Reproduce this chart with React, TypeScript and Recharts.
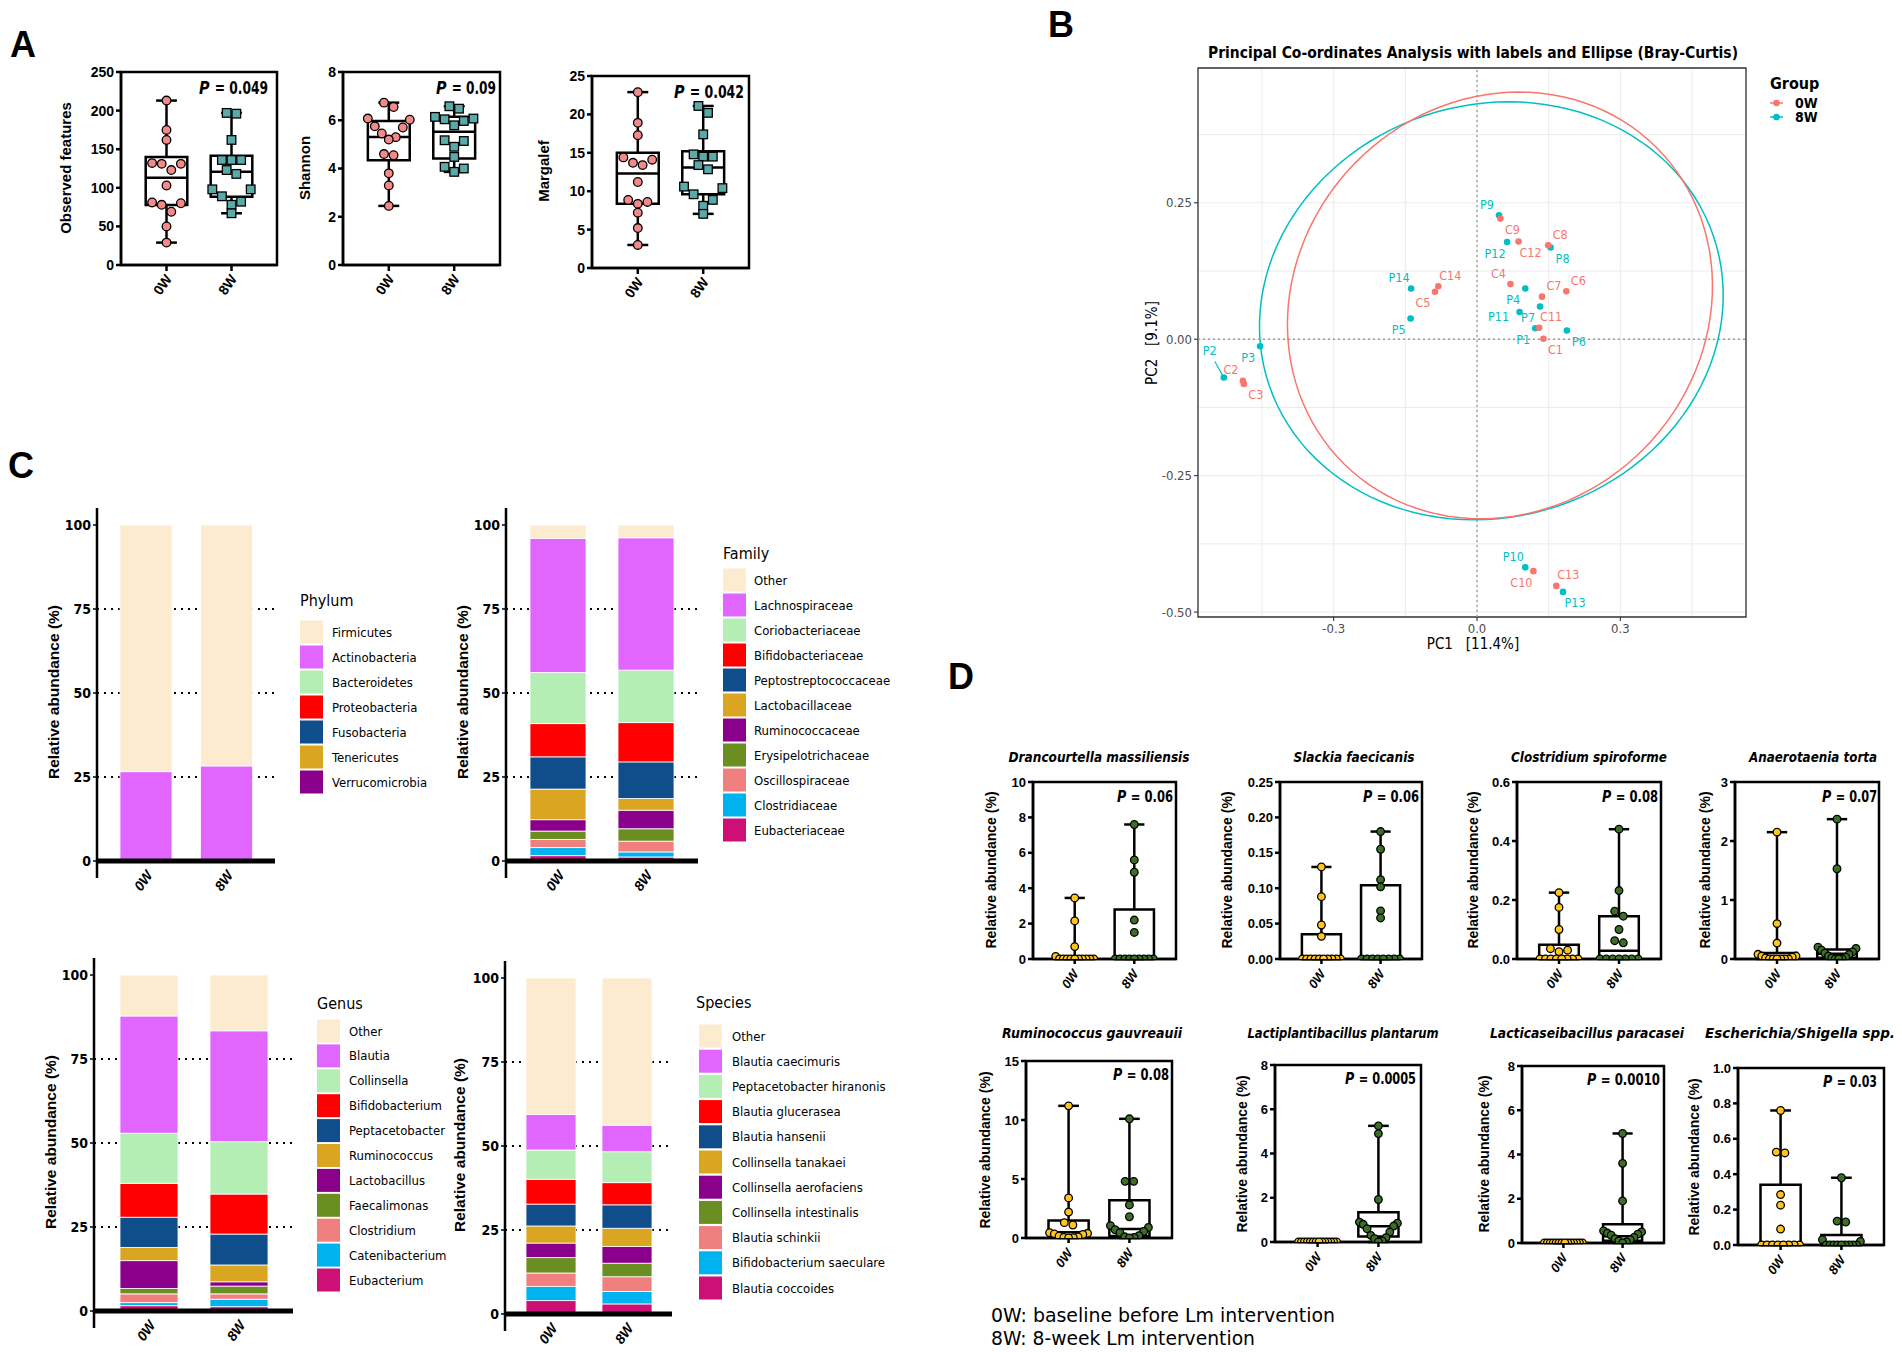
import React from 'react';
import {
  ComposedChart,
  BarChart,
  Bar,
  Scatter,
  XAxis,
  YAxis,
  CartesianGrid,
  ReferenceLine,
  ReferenceArea,
} from 'recharts';

const NARROW = "'Liberation Sans Narrow','Arial Narrow','DejaVu Sans Condensed','Liberation Sans',Arial,sans-serif";
const SANS = "'Liberation Sans',Arial,Helvetica,sans-serif";

const groups = ['0W', '8W'];

// ---------------- Panel A: alpha diversity ----------------
const observed0W = [213, 175, 162, 131, 132, 131, 123, 103, 81, 80, 78, 69, 50, 29];
const observed8W = [197, 196, 162, 136, 136, 136, 123, 118, 98, 98, 89, 82, 78, 67];
const observedBox0W = [29, 77.6, 113, 140, 213]; // min, q1, median, q3, max
const observedBox8W = [67, 88.4, 120.7, 141.4, 197];

const shannon0W = [6.73, 6.55, 6.07, 6.02, 5.75, 5.7, 5.45, 5.3, 5.2, 4.6, 4.55, 3.8, 3.3, 2.45];
const shannon8W = [6.58, 6.48, 6.14, 6.07, 6.04, 5.97, 5.79, 5.17, 5.14, 4.9, 4.48, 4.07, 4.0, 3.86];
const shannonBox0W = [2.45, 4.34, 5.31, 5.97, 6.73];
const shannonBox8W = [3.86, 4.41, 5.52, 6.14, 6.58];

const margalef0W = [22.9, 18.9, 17.3, 14.4, 14.1, 13.7, 13.4, 11.2, 8.87, 8.6, 8.35, 7.2, 5.2, 3.0];
const margalef8W = [21.1, 20.2, 17.4, 14.8, 14.5, 14.5, 13.4, 12.85, 10.6, 10.4, 9.6, 8.87, 8.1, 7.05];
const margalefBox0W = [3.0, 8.35, 12.3, 15.0, 22.9];
const margalefBox8W = [7.05, 9.6, 13.1, 15.2, 21.1];

// ---------------- Panel B: PCoA ----------------
const pcoa0W = [
  { id: 'C1', x: 0.139, y: 0.001 },
  { id: 'C2', x: -0.49, y: -0.076 },
  { id: 'C3', x: -0.488, y: -0.082 },
  { id: 'C4', x: 0.07, y: 0.101 },
  { id: 'C5', x: -0.088, y: 0.087 },
  { id: 'C6', x: 0.187, y: 0.088 },
  { id: 'C7', x: 0.136, y: 0.078 },
  { id: 'C8', x: 0.149, y: 0.172 },
  { id: 'C9', x: 0.049, y: 0.221 },
  { id: 'C10', x: 0.118, y: -0.425 },
  { id: 'C11', x: 0.13, y: 0.021 },
  { id: 'C12', x: 0.087, y: 0.179 },
  { id: 'C13', x: 0.166, y: -0.452 },
  { id: 'C14', x: -0.081, y: 0.097 },
];
const pcoa8W = [
  { id: 'P1', x: 0.122, y: 0.02 },
  { id: 'P2', x: -0.53, y: -0.07 },
  { id: 'P3', x: -0.454, y: -0.013 },
  { id: 'P4', x: 0.101, y: 0.093 },
  { id: 'P5', x: -0.139, y: 0.038 },
  { id: 'P6', x: 0.188, y: 0.016 },
  { id: 'P7', x: 0.132, y: 0.06 },
  { id: 'P8', x: 0.154, y: 0.168 },
  { id: 'P9', x: 0.046, y: 0.227 },
  { id: 'P10', x: 0.101, y: -0.418 },
  { id: 'P11', x: 0.089, y: 0.05 },
  { id: 'P12', x: 0.063, y: 0.178 },
  { id: 'P13', x: 0.18, y: -0.463 },
  { id: 'P14', x: -0.138, y: 0.093 },
];
// label side of each sample label (text repel direction)
const labelSide: Record<string, string> = {
  C1: 'dr', C2: 'ul', C3: 'dr', C4: 'ul', C5: 'dl', C6: 'ur', C7: 'ur', C8: 'ur', C9: 'dr', C10: 'dl',
  C11: 'ur', C12: 'dr', C13: 'ur', C14: 'ur',
  P1: 'dl', P2: 'ul2', P3: 'dl', P4: 'dl', P5: 'dl', P6: 'dr', P7: 'dl', P8: 'dr', P9: 'ul', P10: 'ul',
  P11: 'l', P12: 'dl', P13: 'dr', P14: 'ul',
};
// 95% ellipses: centre, radii, shear
const ellipse0W = { cx: 0.048, cy: 0.062, rx: 0.443, ry: 0.391, h: 0.04 };
const ellipse8W = { cx: 0.03, cy: 0.052, rx: 0.484, ry: 0.383, h: 0.036 };
const pcoaXTicks = [-0.45, -0.3, -0.15, 0, 0.15, 0.3, 0.45];
const pcoaXMajor = [-0.3, 0, 0.3];
const pcoaYTicks = [-0.5, -0.375, -0.25, -0.125, 0, 0.125, 0.25, 0.375];
const pcoaYMajor = [-0.5, -0.25, 0, 0.25];

// ---------------- Panel C: composition ----------------
const phylumTaxa = ['Firmicutes', 'Actinobacteria', 'Bacteroidetes', 'Proteobacteria', 'Fusobacteria', 'Tenericutes', 'Verrucomicrobia'];
const phylum0W = [73.4, 26.3, 0.15, 0.08, 0.04, 0.02, 0.01];
const phylum8W = [71.7, 27.9, 0.2, 0.1, 0.05, 0.03, 0.02];

const familyTaxa = ['Other', 'Lachnospiraceae', 'Coriobacteriaceae', 'Bifidobacteriaceae', 'Peptostreptococcaceae', 'Lactobacillaceae', 'Ruminococcaceae', 'Erysipelotrichaceae', 'Oscillospiraceae', 'Clostridiaceae', 'Eubacteriaceae'];
const family0W = [4.0, 39.9, 15.2, 9.9, 9.6, 9.1, 3.4, 2.5, 2.4, 2.4, 1.6];
const family8W = [3.8, 39.4, 15.6, 11.7, 10.9, 3.5, 5.5, 3.7, 3.2, 1.5, 1.2];

const genusTaxa = ['Other', 'Blautia', 'Collinsella', 'Bifidobacterium', 'Peptacetobacter', 'Ruminococcus', 'Lactobacillus', 'Faecalimonas', 'Clostridium', 'Catenibacterium', 'Eubacterium'];
const genus0W = [12.2, 34.9, 14.9, 10.1, 9.0, 3.9, 8.3, 1.6, 2.6, 0.9, 1.6];
const genus8W = [16.6, 33.0, 15.6, 11.9, 9.2, 5.0, 1.3, 2.3, 1.6, 2.2, 1.3];

const speciesTaxa = ['Other', 'Blautia caecimuris', 'Peptacetobacter hiranonis', 'Blautia glucerasea', 'Blautia hansenii', 'Collinsella tanakaei', 'Collinsella aerofaciens', 'Collinsella intestinalis', 'Blautia schinkii', 'Bifidobacterium saeculare', 'Blautia coccoides'];
const species0W = [40.6, 10.6, 8.7, 7.4, 6.5, 5.1, 4.3, 4.6, 4.0, 4.2, 4.0];
const species8W = [43.8, 7.9, 9.2, 6.6, 7.0, 5.4, 5.0, 4.0, 4.4, 3.7, 3.0];

const palette = ['#FDEBD0', '#E066FF', '#B4EEB4', '#FF0000', '#104E8B', '#DAA520', '#8B008B', '#6B8E23', '#F08080', '#00B2EE', '#CD1076'];
const compTicks = [0, 25, 50, 75, 100];
const compGuideTicks = [25, 50, 75];

// ---------------- Panel D: species boxplots ----------------
const dTitles = ['Drancourtella massiliensis', 'Slackia faecicanis', 'Clostridium spiroforme', 'Anaerotaenia torta', 'Ruminococcus gauvreauii', 'Lactiplantibacillus plantarum', 'Lacticaseibacillus paracasei', 'Escherichia/Shigella spp.'];
const dPvalues = ['0.06', '0.06', '0.08', '0.07', '0.08', '0.0005', '0.0010', '0.03'];

const dranc0W = [3.45, 2.15, 0.7, 0.15, 0, 0, 0, 0, 0, 0, 0, 0, 0, 0];
const dranc8W = [7.6, 5.6, 4.9, 2.2, 1.5, 0, 0, 0, 0, 0, 0, 0, 0, 0];
const drancBox = [[0, 0, 0, 0.12, 3.45], [0, 0, 0, 2.8, 7.6]];

const slack0W = [0.13, 0.088, 0.048, 0.032, 0, 0, 0, 0, 0, 0, 0, 0, 0, 0];
const slack8W = [0.18, 0.155, 0.112, 0.102, 0.068, 0.058, 0, 0, 0, 0, 0, 0, 0, 0];
const slackBox = [[0, 0, 0, 0.035, 0.13], [0, 0, 0, 0.104, 0.18]];

const clost0W = [0.225, 0.175, 0.1, 0.035, 0.03, 0.025, 0, 0, 0, 0, 0, 0, 0, 0];
const clost8W = [0.44, 0.232, 0.162, 0.145, 0.1, 0.062, 0.055, 0, 0, 0, 0, 0, 0, 0];
const clostBox = [[0, 0, 0, 0.048, 0.225], [0, 0, 0.028, 0.145, 0.44]];

const anaer0W = [2.15, 0.6, 0.27, 0.08, 0.05, 0.05, 0.03, 0.02, 0, 0, 0, 0, 0, 0];
const anaer8W = [2.37, 1.53, 0.2, 0.18, 0.15, 0.12, 0.1, 0.08, 0.05, 0.03, 0.02, 0, 0, 0];
const anaerBox = [[0, 0, 0.01, 0.1, 2.15], [0, 0.02, 0.09, 0.16, 2.37]];

const rumin0W = [11.2, 3.4, 2.2, 1.3, 1.1, 0.45, 0.4, 0.35, 0.3, 0.15, 0.1, 0.05, 0.02, 0];
const rumin8W = [10.1, 4.8, 4.8, 2.8, 1.8, 1.05, 0.9, 0.7, 0.55, 0.45, 0.2, 0.1, 0.05, 0];
const ruminBox = [[0, 0.1, 0.48, 1.49, 11.2], [0, 0.18, 0.76, 3.2, 10.1]];

const lplan0W = [0, 0, 0, 0, 0, 0, 0, 0, 0, 0, 0, 0, 0, 0];
const lplan8W = [5.25, 4.9, 1.92, 0.9, 0.85, 0.8, 0.72, 0.6, 0.45, 0.3, 0.2, 0.15, 0.05, 0];
const lplanBox = [[0, 0, 0, 0, 0], [0, 0.25, 0.71, 1.34, 5.25]];

const lpara0W = [0, 0, 0, 0, 0, 0, 0, 0, 0, 0, 0, 0, 0, 0];
const lpara8W = [4.95, 3.6, 1.9, 0.55, 0.5, 0.45, 0.4, 0.35, 0.25, 0.2, 0.15, 0.1, 0.05, 0];
const lparaBox = [[0, 0, 0, 0, 0], [0, 0.1, 0.3, 0.85, 4.95]];

const esch0W = [0.76, 0.525, 0.52, 0.285, 0.225, 0.09, 0, 0, 0, 0, 0, 0, 0, 0];
const esch8W = [0.38, 0.135, 0.13, 0.03, 0.02, 0, 0, 0, 0, 0, 0, 0, 0, 0];
const eschBox = [[0, 0, 0, 0.34, 0.76], [0, 0, 0, 0.057, 0.38]];

// ---------------- helpers ----------------
function zigzag(k: number) {
  const res: number[] = [];
  let lo = 0;
  let hi = k - 1;
  for (let j = 0; j < k; j++) res.push(j % 2 === 0 ? lo++ : hi--);
  return res;
}

// simple beeswarm: points with close values are spread side by side
function swarm(values: number[], center: number, pxY: number, pxX: number, diam: number, maxHalf: number) {
  const order = values.map((_, i) => i).sort((a, b) => values[b] - values[a]);
  const clusters: number[][] = [];
  let cur: number[] = [];
  let prev = NaN;
  order.forEach((i) => {
    const py = values[i] * pxY;
    if (cur.length && Math.abs(prev - py) < diam * 0.75) cur.push(i);
    else {
      if (cur.length) clusters.push(cur);
      cur = [i];
    }
    prev = py;
  });
  if (cur.length) clusters.push(cur);
  const out: { x: number; y: number }[] = [];
  clusters.forEach((cl) => {
    const k = cl.length;
    const step = k > 1 ? Math.min(diam, (2 * maxHalf) / (k - 1)) : 0;
    const perm = zigzag(k);
    cl.forEach((idx, j) => {
      const off = (perm[j] - (k - 1) / 2) * step;
      out.push({ x: center + off / pxX, y: values[idx] });
    });
  });
  return out;
}

function RotTick(props: any) {
  const { x, y, payload, italic, bold, size, dx, dy } = props;
  const v = payload.value;
  const label = typeof v === 'number' ? groups[Math.round(v) - 1] : v;
  return (
    <text
      transform={`translate(${x + dx},${y + dy}) rotate(-55)`}
      textAnchor="end"
      dominantBaseline="central"
      fontSize={size}
      fontStyle={italic ? 'italic' : 'normal'}
      fontWeight={bold ? 700 : 400}
      fontFamily={SANS}
      fill="#000"
    >
      {label}
    </text>
  );
}

interface BoxSpec {
  key: string;
  frame: number[];
  domain: number[];
  ticks: number[];
  decimals: number;
  values: number[][];
  boxes: number[][];
  colors: string[];
  shapes: string[];
  xTick: { italic: boolean; bold: boolean; size: number; dx: number; dy: number };
  xTickSize: number;
  r: number;
  boxHalf: number;
  capHalf: number;
  spread: number;
  tickFont: number;
}

function BoxPanel({ s }: { s: BoxSpec }) {
  const [fx, fy, fw, fh] = s.frame;
  const L = 56;
  const T = 10;
  const R = 10;
  const B = 60;
  const xDom = [0.3, 2.7];
  const [lo, hi] = s.domain;
  const pxY = fh / (hi - lo);
  const pxX = fw / (xDom[1] - xDom[0]);
  const pts = s.values.map((vals, gi) => swarm(vals, gi + 1, pxY, pxX, s.r * 2 + 1, s.spread));
  const refs: any[] = [];
  s.boxes.forEach((b, gi) => {
    const c = gi + 1;
    const [mn, q1, md, q3, mx] = b;
    const ln = { stroke: '#000', strokeWidth: 2.5, ifOverflow: 'visible' as const };
    if (q3 > q1)
      refs.push(
        <ReferenceArea key={`box${gi}`} x1={c - s.boxHalf} x2={c + s.boxHalf} y1={q1} y2={q3} fill="none" stroke="#000" strokeWidth={2.5} ifOverflow="visible" />
      );
    refs.push(<ReferenceLine key={`wu${gi}`} segment={[{ x: c, y: q3 }, { x: c, y: mx }]} {...ln} />);
    refs.push(<ReferenceLine key={`wl${gi}`} segment={[{ x: c, y: mn }, { x: c, y: q1 }]} {...ln} />);
    refs.push(<ReferenceLine key={`cu${gi}`} segment={[{ x: c - s.capHalf, y: mx }, { x: c + s.capHalf, y: mx }]} {...ln} />);
    refs.push(<ReferenceLine key={`cl${gi}`} segment={[{ x: c - s.capHalf, y: mn }, { x: c + s.capHalf, y: mn }]} {...ln} />);
    refs.push(<ReferenceLine key={`md${gi}`} segment={[{ x: c - s.boxHalf, y: md }, { x: c + s.boxHalf, y: md }]} {...ln} />);
  });
  const shapeFor = (gi: number) => {
    const fill = s.colors[gi];
    if (s.shapes[gi] === 'square') {
      const side = s.r * 2;
      return (p: any) => <rect x={p.cx - side / 2} y={p.cy - side / 2} width={side} height={side} fill={fill} stroke="#000" strokeWidth={1.3} />;
    }
    return (p: any) => <circle cx={p.cx} cy={p.cy} r={s.r} fill={fill} stroke="#000" strokeWidth={1.3} />;
  };
  return (
    <div style={{ position: 'absolute', left: fx - L, top: fy - T }}>
      <ComposedChart width={fw + L + R} height={fh + T + B} margin={{ top: T, right: R, bottom: 0, left: 0 }}>
        <XAxis
          type="number"
          dataKey="x"
          domain={xDom}
          ticks={[1, 2]}
          allowDataOverflow
          height={B}
          interval={0}
          axisLine={{ stroke: '#000', strokeWidth: 2.5 }}
          tickLine={{ stroke: '#000', strokeWidth: 2.5 }}
          tickSize={s.xTickSize}
          tickMargin={0}
          tick={(p: any) => <RotTick {...p} {...s.xTick} />}
        />
        <YAxis
          type="number"
          dataKey="y"
          domain={s.domain}
          ticks={s.ticks}
          allowDataOverflow
          width={L}
          interval={0}
          axisLine={{ stroke: '#000', strokeWidth: 2.5 }}
          tickLine={{ stroke: '#000', strokeWidth: 2.5 }}
          tickSize={5}
          tickMargin={2}
          tickFormatter={(v: number) => v.toFixed(s.decimals)}
          tick={{ fill: '#000', fontSize: s.tickFont, fontWeight: 700, fontFamily: SANS }}
        />
        <ReferenceArea x1={xDom[0]} x2={xDom[1]} y1={lo} y2={hi} fill="none" stroke="#000" strokeWidth={2.5} ifOverflow="visible" />
        {refs}
        {pts.map((d, gi) => (
          <Scatter key={`g${gi}`} data={d} shape={shapeFor(gi)} isAnimationActive={false} />
        ))}
      </ComposedChart>
    </div>
  );
}

function StackPanel({ plot, taxa, v0, v8, padL, padR, barSize }: any) {
  const [px, py, pw, ph] = plot;
  const L = 60;
  const T = 10;
  const R = 5;
  const B = 50;
  const dom = [-5.06, 105.06];
  const data = groups.map((g, gi) => {
    const row: any = { name: g };
    taxa.forEach((t: string, i: number) => {
      row[t] = (gi === 0 ? v0 : v8)[i];
    });
    return row;
  });
  const order = taxa.map((t: string, i: number) => ({ t, c: palette[i] })).reverse();
  const guideLine = (p: any) => {
    const k = p.key ?? `h${p.index}`;
    if (p.y1 < T + 3 || p.y1 > T + ph - 3) return <g key={k} />;
    return <line key={k} x1={p.x1} y1={p.y1} x2={p.x2} y2={p.y2} stroke="#000" strokeWidth={2} strokeDasharray="2 5" />;
  };
  return (
    <div style={{ position: 'absolute', left: px - L, top: py - T }}>
      <BarChart width={pw + L + R} height={ph + T + B} data={data} margin={{ top: T, right: R, bottom: 0, left: 0 }}>
        <CartesianGrid yAxisId="guide" vertical={false} horizontal={guideLine} />
        <XAxis
          dataKey="name"
          type="category"
          padding={{ left: padL, right: padR }}
          axisLine={false}
          tickLine={false}
          tickSize={0}
          tickMargin={0}
          height={B}
          interval={0}
          tick={(p: any) => <RotTick {...p} italic bold size={14} dx={3} dy={-6} />}
        />
        <YAxis
          type="number"
          domain={dom}
          ticks={compTicks}
          allowDataOverflow
          width={L}
          interval={0}
          axisLine={{ stroke: '#000', strokeWidth: 2.5 }}
          tickLine={{ stroke: '#000', strokeWidth: 1.5 }}
          tickSize={4}
          tickMargin={2}
          tick={{ fill: '#000', fontSize: 14, fontWeight: 700, fontFamily: NARROW }}
        />
        <YAxis yAxisId="guide" hide type="number" domain={dom} ticks={compGuideTicks} allowDataOverflow interval={0} />
        {order.map((o: any) => (
          <Bar key={o.t} dataKey={o.t} stackId="s" fill={o.c} stroke="#fff" strokeWidth={0.8} barSize={barSize} isAnimationActive={false} />
        ))}
        <ReferenceLine y={0} stroke="#000" strokeWidth={5} />
      </BarChart>
    </div>
  );
}

function ellipsePoints(e: { cx: number; cy: number; rx: number; ry: number; h: number }) {
  const pts: { x: number; y: number }[] = [];
  const n = 120;
  for (let i = 0; i <= n; i++) {
    const t = (i / n) * Math.PI * 2;
    pts.push({ x: e.cx + e.rx * Math.cos(t) + e.h * Math.sin(t), y: e.cy + e.ry * Math.sin(t) });
  }
  return pts;
}

const LABEL_OFFSETS: Record<string, number[]> = {
  ul: [-12, -11], ur: [12, -11], dl: [-12, 11], dr: [12, 11], l: [-21, 5], ul2: [-14, -27],
};

const isIn = (v: number, arr: number[]) => arr.some((m) => Math.abs(m - v) < 1e-9);

function PcoaPanel() {
  const fx = 1198;
  const fy = 68;
  const fw = 548;
  const fh = 549;
  const L = 60;
  const T = 10;
  const R = 10;
  const B = 40;
  const xDom = [-0.584, 0.563];
  const yDom = [-0.509, 0.497];
  const red = '#F8766D';
  const teal = '#00BFC4';
  const ptShape = (color: string) => (p: any) => {
    const d = p.payload;
    const side = labelSide[d.id];
    const [ox, oy] = LABEL_OFFSETS[side];
    return (
      <g>
        {side === 'ul2' && <line x1={p.cx} y1={p.cy} x2={p.cx - 9} y2={p.cy - 16} stroke={color} strokeWidth={1.2} />}
        <circle cx={p.cx} cy={p.cy} r={3.3} fill={color} />
        <text x={p.cx + ox} y={p.cy + oy} fill={color} fontSize={12.5} textAnchor="middle" dominantBaseline="central" fontFamily={NARROW}>
          {d.id}
        </text>
      </g>
    );
  };
  const xTick = (p: any) => {
    const v = p.payload.value;
    if (!isIn(v, pcoaXMajor)) return <g />;
    return (
      <g>
        <line x1={p.x} y1={p.y} x2={p.x} y2={p.y + 4} stroke="#333" strokeWidth={1.1} />
        <text x={p.x} y={p.y + 16} textAnchor="middle" fontSize={13} fill="#4D4D4D" fontFamily={NARROW}>
          {v.toFixed(1)}
        </text>
      </g>
    );
  };
  const yTick = (p: any) => {
    const v = p.payload.value;
    if (!isIn(v, pcoaYMajor)) return <g />;
    return (
      <g>
        <line x1={p.x} y1={p.y} x2={p.x - 4} y2={p.y} stroke="#333" strokeWidth={1.1} />
        <text x={p.x - 6} y={p.y} textAnchor="end" dominantBaseline="central" fontSize={13} fill="#4D4D4D" fontFamily={NARROW}>
          {v.toFixed(2)}
        </text>
      </g>
    );
  };
  return (
    <div style={{ position: 'absolute', left: fx - L, top: fy - T }}>
      <ComposedChart width={fw + L + R} height={fh + T + B} margin={{ top: T, right: R, bottom: 0, left: 0 }}>
        <CartesianGrid stroke="#EBEBEB" strokeWidth={1} />
        <XAxis type="number" dataKey="x" domain={xDom} ticks={pcoaXTicks} allowDataOverflow height={B} interval={0} axisLine={false} tickLine={false} tickSize={0} tickMargin={0} tick={xTick} />
        <YAxis type="number" dataKey="y" domain={yDom} ticks={pcoaYTicks} allowDataOverflow width={L} interval={0} axisLine={false} tickLine={false} tickSize={0} tickMargin={0} tick={yTick} />
        <ReferenceLine x={0} stroke="#9A9A9A" strokeWidth={1.3} strokeDasharray="2 3" />
        <ReferenceLine y={0} stroke="#9A9A9A" strokeWidth={1.3} strokeDasharray="2 3" />
        <Scatter data={ellipsePoints(ellipse8W)} fill={teal} line={{ stroke: teal, strokeWidth: 1.5 }} shape={() => <g />} isAnimationActive={false} />
        <Scatter data={ellipsePoints(ellipse0W)} fill={red} line={{ stroke: red, strokeWidth: 1.5 }} shape={() => <g />} isAnimationActive={false} />
        <Scatter data={pcoa8W} fill={teal} shape={ptShape(teal)} isAnimationActive={false} />
        <Scatter data={pcoa0W} fill={red} shape={ptShape(red)} isAnimationActive={false} />
        <ReferenceArea x1={xDom[0]} x2={xDom[1]} y1={yDom[0]} y2={yDom[1]} fill="none" stroke="#333" strokeWidth={1.3} ifOverflow="visible" />
      </ComposedChart>
    </div>
  );
}

// ---------------- specs ----------------
const A_XT = { italic: false, bold: true, size: 14, dx: 2, dy: 5 };
const D_XT = { italic: true, bold: true, size: 13, dx: 1, dy: 7 };
const aColors = ['#F4898A', '#5BAAAA'];
const dColors = ['#FFC51F', '#3C6E27'];

const aSpecs: BoxSpec[] = [
  { key: 'obs', frame: [121, 72, 156, 193], domain: [0, 250], ticks: [0, 50, 100, 150, 200, 250], decimals: 0, values: [observed0W, observed8W], boxes: [observedBox0W, observedBox8W], colors: aColors, shapes: ['circle', 'square'], xTick: A_XT, xTickSize: 6, r: 4.3, boxHalf: 0.32, capHalf: 0.16, spread: 21, tickFont: 14 },
  { key: 'sha', frame: [343, 72, 157, 193], domain: [0, 8], ticks: [0, 2, 4, 6, 8], decimals: 0, values: [shannon0W, shannon8W], boxes: [shannonBox0W, shannonBox8W], colors: aColors, shapes: ['circle', 'square'], xTick: A_XT, xTickSize: 6, r: 4.3, boxHalf: 0.32, capHalf: 0.16, spread: 21, tickFont: 14 },
  { key: 'mar', frame: [592, 76, 157, 192], domain: [0, 25], ticks: [0, 5, 10, 15, 20, 25], decimals: 0, values: [margalef0W, margalef8W], boxes: [margalefBox0W, margalefBox8W], colors: aColors, shapes: ['circle', 'square'], xTick: A_XT, xTickSize: 6, r: 4.3, boxHalf: 0.32, capHalf: 0.16, spread: 21, tickFont: 14 },
];

const dBase = { colors: dColors, shapes: ['circle', 'circle'], xTick: D_XT, xTickSize: 5, r: 3.8, boxHalf: 0.33, capHalf: 0.17, spread: 19, tickFont: 13 };
const dSpecs: BoxSpec[] = [
  { key: 'd1', frame: [1033, 782, 143, 177], domain: [0, 10], ticks: [0, 2, 4, 6, 8, 10], decimals: 0, values: [dranc0W, dranc8W], boxes: drancBox, ...dBase },
  { key: 'd2', frame: [1280, 782, 142, 177], domain: [0, 0.25], ticks: [0, 0.05, 0.1, 0.15, 0.2, 0.25], decimals: 2, values: [slack0W, slack8W], boxes: slackBox, ...dBase },
  { key: 'd3', frame: [1517, 782, 144, 177], domain: [0, 0.6], ticks: [0, 0.2, 0.4, 0.6], decimals: 1, values: [clost0W, clost8W], boxes: clostBox, ...dBase },
  { key: 'd4', frame: [1735, 782, 144, 177], domain: [0, 3], ticks: [0, 1, 2, 3], decimals: 0, values: [anaer0W, anaer8W], boxes: anaerBox, ...dBase },
  { key: 'd5', frame: [1026, 1061, 146, 177], domain: [0, 15], ticks: [0, 5, 10, 15], decimals: 0, values: [rumin0W, rumin8W], boxes: ruminBox, ...dBase },
  { key: 'd6', frame: [1275, 1065, 146, 177], domain: [0, 8], ticks: [0, 2, 4, 6, 8], decimals: 0, values: [lplan0W, lplan8W], boxes: lplanBox, ...dBase },
  { key: 'd7', frame: [1522, 1066, 142, 177], domain: [0, 8], ticks: [0, 2, 4, 6, 8], decimals: 0, values: [lpara0W, lpara8W], boxes: lparaBox, ...dBase },
  { key: 'd8', frame: [1738, 1068, 146, 177], domain: [0, 1], ticks: [0, 0.2, 0.4, 0.6, 0.8, 1.0], decimals: 1, values: [esch0W, esch8W], boxes: eschBox, ...dBase },
];

// text layout
const dTitlePos = [[1099, 757, 181], [1354, 757, 121], [1589, 757, 156], [1813, 757, 128], [1092, 1033, 180], [1343, 1033, 191], [1587, 1033, 194], [1800, 1033, 190]];
const dYLabelPos = [[991, 870], [1227, 870], [1473, 870], [1705, 870], [985, 1150], [1242, 1154], [1484, 1154], [1694, 1157]];
const dPPos = [[1173, 802, 56], [1419, 802, 56], [1658, 802, 56], [1877, 802, 55], [1169, 1080, 56], [1416, 1084, 71], [1660, 1085, 73], [1877, 1087, 54]];
const aPPos = [[268, 94, 69, '0.049'], [496, 94, 60, '0.09'], [744, 98, 70, '0.042']];

const legends = [
  { title: 'Phylum', taxa: phylumTaxa, tx: 300, ty: 600, sx: 300, textX: 332, y0: 632, step: 25 },
  { title: 'Family', taxa: familyTaxa, tx: 723, ty: 553, sx: 723, textX: 754, y0: 580, step: 25 },
  { title: 'Genus', taxa: genusTaxa, tx: 317, ty: 1003, sx: 317, textX: 349, y0: 1031, step: 24.9 },
  { title: 'Species', taxa: speciesTaxa, tx: 696, ty: 1002, sx: 699, textX: 732, y0: 1036, step: 25.2 },
];

// "P = value": italic P and the rest as two separate, non-overlapping texts
function PText({ x, y, value, size, w }: any) {
  const pw = size * 0.62;
  const gap = size * 0.3;
  return (
    <g fontWeight={700} fontFamily={NARROW} fill="#000" fontSize={size}>
      <text x={x - w} y={y} fontStyle="italic" textLength={pw} lengthAdjust="spacingAndGlyphs">P</text>
      <text x={x - w + pw + gap} y={y} textLength={w - pw - gap} lengthAdjust="spacingAndGlyphs">{`= ${value}`}</text>
    </g>
  );
}

function Overlay() {
  const rot = (x: number, y: number) => `translate(${x},${y}) rotate(-90)`;
  return (
    <svg width={1902} height={1352} style={{ position: 'absolute', left: 0, top: 0, pointerEvents: 'none' }}>
      {/* panel letters */}
      <g fontFamily={SANS} fontWeight={700} fontSize={36} fill="#000">
        <text x={10} y={57}>A</text>
        <text x={1048} y={37}>B</text>
        <text x={8} y={478}>C</text>
        <text x={948} y={689}>D</text>
      </g>
      {/* panel A */}
      <g fontFamily={SANS} fontWeight={700} fontSize={15} fill="#000" textAnchor="middle">
        <text transform={rot(65, 168)} dominantBaseline="central">Observed features</text>
        <text transform={rot(304, 168)} dominantBaseline="central">Shannon</text>
        <text transform={rot(543, 171)} dominantBaseline="central">Margalef</text>
      </g>
      {aPPos.map((p: any, i) => (
        <PText key={i} x={p[0]} y={p[1]} w={p[2]} value={p[3]} size={17} />
      ))}
      {/* panel B */}
      <text x={1473} y={58} textAnchor="middle" fontFamily={NARROW} fontWeight={700} fontSize={16} textLength={530} lengthAdjust="spacingAndGlyphs" fill="#000">
        Principal Co-ordinates Analysis with labels and Ellipse (Bray-Curtis)
      </text>
      <text x={1473} y={649} textAnchor="middle" fontFamily={NARROW} fontSize={15} fill="#000" style={{ whiteSpace: 'pre' }}>
        {'PC1   [11.4%]'}
      </text>
      <text transform={rot(1152, 343)} textAnchor="middle" dominantBaseline="central" fontFamily={NARROW} fontSize={15} fill="#000" style={{ whiteSpace: 'pre' }}>
        {'PC2   [9.1%]'}
      </text>
      <text x={1770} y={89} fontFamily={NARROW} fontWeight={700} fontSize={16} fill="#000">Group</text>
      {[
        { g: '0W', c: '#F8766D', y: 103 },
        { g: '8W', c: '#00BFC4', y: 117 },
      ].map((it) => (
        <g key={it.g}>
          <line x1={1770} x2={1783} y1={it.y} y2={it.y} stroke={it.c} strokeWidth={1.5} />
          <circle cx={1776.5} cy={it.y} r={3.3} fill={it.c} />
          <text x={1795} y={it.y} dominantBaseline="central" fontFamily={NARROW} fontWeight={700} fontSize={14} fill="#000">{it.g}</text>
        </g>
      ))}
      {/* panel C */}
      <g fontFamily={SANS} fontWeight={700} fontSize={15.5} fill="#000" textAnchor="middle">
        <text transform={rot(53, 692)} dominantBaseline="central">Relative abundance (%)</text>
        <text transform={rot(462, 692)} dominantBaseline="central">Relative abundance (%)</text>
        <text transform={rot(50, 1142)} dominantBaseline="central">Relative abundance (%)</text>
        <text transform={rot(459, 1145)} dominantBaseline="central">Relative abundance (%)</text>
      </g>
      {legends.map((lg) => (
        <g key={lg.title} fontFamily={NARROW} fill="#000">
          <text x={lg.tx} y={lg.ty} dominantBaseline="central" fontSize={16}>{lg.title}</text>
          {lg.taxa.map((t, i) => (
            <g key={t}>
              <rect x={lg.sx} y={lg.y0 + i * lg.step - 11.5} width={23} height={23} fill={palette[i]} />
              <text x={lg.textX} y={lg.y0 + i * lg.step} dominantBaseline="central" fontSize={13}>{t}</text>
            </g>
          ))}
        </g>
      ))}
      {/* panel D */}
      {dTitles.map((t, i) => (
        <text key={t} x={dTitlePos[i][0]} y={dTitlePos[i][1]} textAnchor="middle" dominantBaseline="central" fontFamily={NARROW} fontWeight={700} fontStyle="italic" fontSize={14} textLength={dTitlePos[i][2]} lengthAdjust="spacingAndGlyphs" fill="#000">
          {t}
        </text>
      ))}
      <g fontFamily={SANS} fontWeight={700} fontSize={14} fill="#000" textAnchor="middle">
        {dYLabelPos.map((p, i) => (
          <text key={i} transform={rot(p[0], p[1])} dominantBaseline="central">Relative abundance (%)</text>
        ))}
      </g>
      {dPvalues.map((v, i) => (
        <PText key={i} x={dPPos[i][0]} y={dPPos[i][1]} w={dPPos[i][2]} value={v} size={15} />
      ))}
      <g fontFamily={NARROW} fontSize={19} fill="#000">
        <text x={991} y={1322} textLength={344} lengthAdjust="spacingAndGlyphs">0W: baseline before Lm intervention</text>
        <text x={991} y={1345} textLength={264} lengthAdjust="spacingAndGlyphs">8W: 8-week Lm intervention</text>
      </g>
    </svg>
  );
}

export default function App() {
  return (
    <div style={{ position: 'absolute', left: 0, top: 0, width: 1902, height: 1352, background: '#fff', fontFamily: SANS, overflow: 'hidden' }}>
      {aSpecs.map((s) => (
        <BoxPanel key={s.key} s={s} />
      ))}
      <PcoaPanel />
      <StackPanel plot={[97, 508, 178, 370]} taxa={phylumTaxa} v0={phylum0W} v8={phylum8W} padL={9} padR={8} barSize={52} />
      <StackPanel plot={[506, 508, 192, 370]} taxa={familyTaxa} v0={family0W} v8={family8W} padL={8} padR={8} barSize={56} />
      <StackPanel plot={[94, 958, 199, 370]} taxa={genusTaxa} v0={genus0W} v8={genus8W} padL={10} padR={9} barSize={58} />
      <StackPanel plot={[505, 961, 167, 370]} taxa={speciesTaxa} v0={species0W} v8={species8W} padL={8} padR={7} barSize={50} />
      {dSpecs.map((s) => (
        <BoxPanel key={s.key} s={s} />
      ))}
      <Overlay />
    </div>
  );
}
